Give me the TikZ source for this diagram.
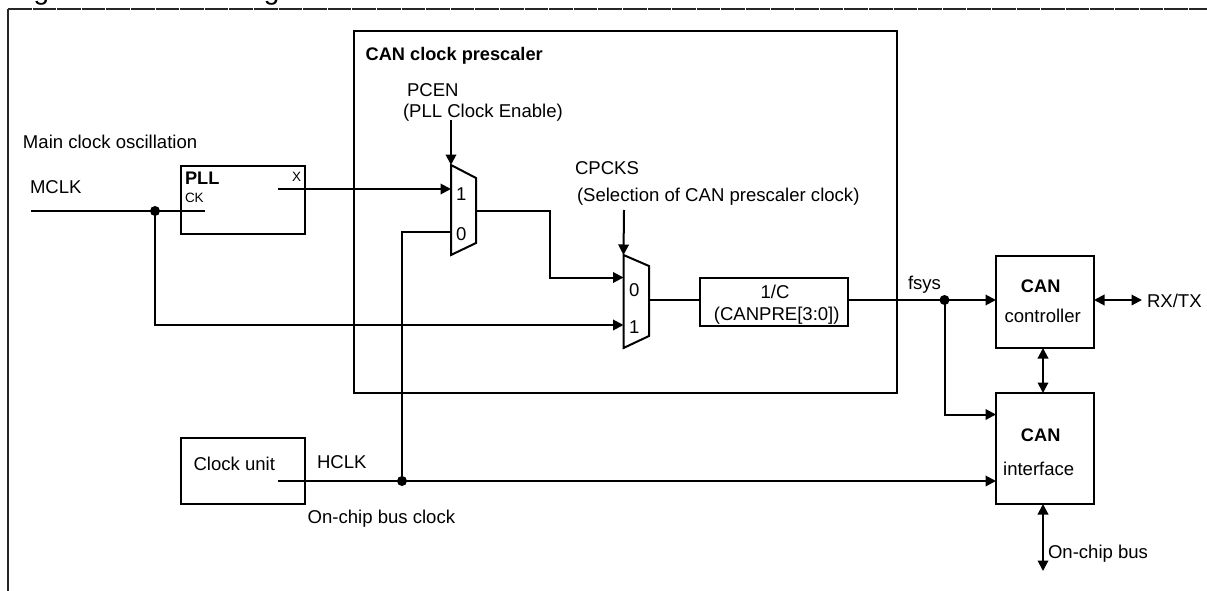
\documentclass[tikz,border=0pt]{standalone}
\usepackage{fontspec}
\setmainfont{Liberation Sans}
\usetikzlibrary{arrows.meta}
\tikzset{
  wire/.style={line width=2pt,draw=black,line join=miter},
  arrowed/.style={wire,-{Triangle[length=10.5pt,width=10.5pt]}},
  twoway/.style={wire,{Triangle[length=10.5pt,width=10.5pt]}-{Triangle[length=10.5pt,width=10.5pt]}},
  frameline/.style={line width=1.6pt,draw=black!85},
  blockbox/.style={draw=black,line width=2pt,inner sep=0pt,outer sep=0pt,anchor=north west},
  junction/.style={circle,fill=black,inner sep=0pt,minimum size=10pt},
  muxshape/.style={line width=2pt,draw=black,line join=miter},
  lab/.style={inner sep=0pt,outer sep=0pt,anchor=base west,font=\fontsize{18.55}{20}\selectfont},
  labc/.style={inner sep=0pt,outer sep=0pt,anchor=base,font=\fontsize{18.55}{20}\selectfont},
  blab/.style={inner sep=0pt,outer sep=0pt,anchor=base west,font=\fontsize{18.2}{20}\selectfont\bfseries},
  blabc/.style={inner sep=0pt,outer sep=0pt,anchor=base,font=\fontsize{18.2}{20}\selectfont\bfseries},
  smalllab/.style={inner sep=0pt,outer sep=0pt,anchor=base west,font=\fontsize{13.5}{15}\selectfont}
}
\begin{document}
\begin{tikzpicture}[x=1pt,y=-1pt]
\useasboundingbox (0,0) rectangle (1207,591);
% clipped title
\begin{scope}
\clip (0,0) rectangle (1207,8);
\node[inner sep=0pt,anchor=base west,font=\fontsize{28}{30}\selectfont] (title) at (10,-0.5) {Figure 6-1 Block Diagram of CAN Clock Prescaler};
\end{scope}
% page frame
\coordinate (fbl) at (8,591);
\coordinate (ftl) at (8,9);
\coordinate (ftr) at (1207,9);
\draw[frameline] (fbl) -- (ftl);
\draw[frameline,dash pattern=on 23.6pt off 1pt] (ftl) -- (ftr);
% blocks
\node[blockbox,minimum width=543pt,minimum height=362pt] (presc) at (354,31) {};
\node[blockbox,minimum width=124pt,minimum height=68pt] (pll) at (181,166) {};
\node[blockbox,minimum width=124pt,minimum height=66pt] (clk) at (181,438) {};
\node[blockbox,minimum width=148pt,minimum height=48pt] (div) at (700,278) {};
\node[blockbox,minimum width=98pt,minimum height=92pt] (ctrl) at (996,256) {};
\node[blockbox,minimum width=98pt,minimum height=111pt] (intf) at (996,393) {};
% multiplexers
\coordinate (m1a) at (451,165);
\coordinate (m1b) at (476,178);
\coordinate (m1c) at (476,243);
\coordinate (m1d) at (451,255);
\draw[muxshape] (m1a) -- (m1b) -- (m1c) -- (m1d) -- cycle;
\coordinate (m2a) at (623.5,255);
\coordinate (m2b) at (649,266);
\coordinate (m2c) at (649,336);
\coordinate (m2d) at (623.5,348);
\draw[muxshape] (m2a) -- (m2b) -- (m2c) -- (m2d) -- cycle;
% junctions
\node[junction] (j1) at (155,211) {};
\node[junction] (j2) at (402,481) {};
\node[junction] (j3) at (944.5,300) {};
% connector ends
\coordinate (mclk) at (31,211);
\coordinate (ck) at (205,211);
\coordinate (x) at (278,189);
\coordinate (m1in1) at (451,189);
\coordinate (m1in0) at (451,231.5);
\coordinate (m1ctl) at (451,120);
\coordinate (m1out) at (476,211);
\coordinate (m2in0) at (623.5,277.5);
\coordinate (m2in1) at (623.5,325);
\coordinate (m2ctl) at (624,210);
\coordinate (m2out) at (649,299.5);
\coordinate (hclk) at (278,481);
\coordinate (rxtx) at (1142,300);
\coordinate (bus) at (1043,571);
% connectors
\draw[wire] (mclk) -- (ck);
\draw[arrowed] (j1.center) |- (m2in1);
\draw[arrowed] (x) -- (m1in1);
\draw[arrowed] (m1ctl) -- (m1a);
\draw[wire] (j2.center) |- (m1in0);
\draw[arrowed] (m1out) -- (550,211) |- (m2in0);
\draw[arrowed] (m2ctl) -- (m2a);
\draw[wire] (m2out) -- (div.west |- m2out);
\draw[wire] (div.east |- j3) -- (j3.center);
\draw[arrowed] (j3.center) -- (ctrl.west |- j3);
\draw[arrowed] (j3.center) |- (intf.west |- 0,414.5);
\draw[arrowed] (hclk) -- (intf.west |- hclk);
\draw[twoway] (ctrl.east |- rxtx) -- (rxtx);
\draw[twoway] (ctrl.south -| bus) -- (intf.north -| bus);
\draw[twoway] (intf.south -| bus) -- (bus);
% labels
\node[lab] (t1) at (23,148) {Main clock oscillation};
\node[lab] (t2) at (30,193.3) {MCLK};
\node[blab] (t3) at (185,184) {PLL};
\node[smalllab] (t4) at (185,202) {CK};
\node[smalllab] (t5) at (292,181) {X};
\node[lab] (t6) at (456,200) {1};
\node[lab] (t7) at (456,240.7) {0};
\node[blab] (t8) at (365.7,60.7) {CAN clock prescaler};
\node[lab] (t9) at (407,97) {PCEN};
\node[lab] (t10) at (403,118) {(PLL Clock Enable)};
\node[lab] (t11) at (575,174) {CPCKS};
\node[lab] (t12) at (577,201.7) {(Selection of CAN prescaler clock)};
\node[lab] (t13) at (629,296.7) {0};
\node[lab] (t14) at (629,333.3) {1};
\node[labc] (t15) at (775,298.3) {1/C};
\node[labc] (t16) at (776.7,320) {(CANPRE[3:0])};
\node[lab] (t17) at (908,289.3) {fsys};
\node[blabc] (t18) at (1040.7,292) {CAN};
\node[labc] (t19) at (1042.7,322.3) {controller};
\node[blabc] (t20) at (1040.7,441) {CAN};
\node[labc] (t21) at (1038.7,475) {interface};
\node[lab] (t22) at (1147,307.7) {RX/TX};
\node[lab] (t23) at (1048,558.3) {On-chip bus};
\node[labc] (t24) at (234.3,470) {Clock unit};
\node[lab] (t25) at (317,468.3) {HCLK};
\node[lab] (t26) at (307.7,523.3) {On-chip bus clock};
\end{tikzpicture}
\end{document}
